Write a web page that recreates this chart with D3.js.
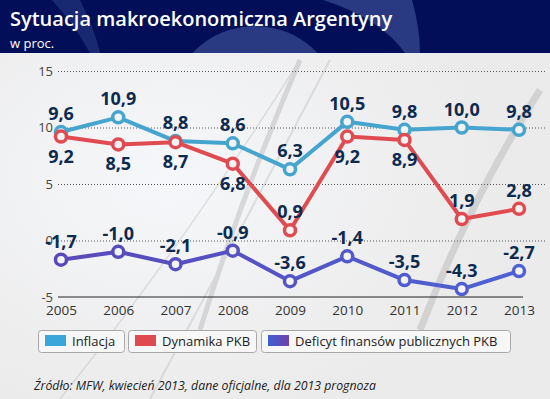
<!DOCTYPE html>
<html><head><meta charset="utf-8">
<script src="https://cdn.jsdelivr.net/npm/d3@7"></script>
<style>
html,body{margin:0;padding:0;background:#ededed;}
svg{display:block;}
</style></head>
<body><svg id="c" width="550" height="399"></svg>
<script>
const years = [2005, 2006, 2007, 2008, 2009, 2010, 2011, 2012, 2013];
const inflacja = [9.6, 10.9, 8.8, 8.6, 6.3, 10.5, 9.8, 10.0, 9.8];
const dynamikaPKB = [9.2, 8.5, 8.7, 6.8, 0.9, 9.2, 8.9, 1.9, 2.8];
const deficyt = [-1.7, -1.0, -2.1, -0.9, -3.6, -1.4, -3.5, -4.3, -2.7];
const yTicks = [-5, 0, 5, 10, 15];
const seriesNames = ["Inflacja", "Dynamika PKB", "Deficyt finansów publicznych PKB"];
const labelSide = [
  ["a","a","a","a","a","a","a","a","a"],
  ["b","b","b","b","a","b","b","a","a"],
  ["a","a","a","a","a","a","a","a","a"]
];
const title = "Sytuacja makroekonomiczna Argentyny";
const subtitle = "w proc.";
const source = "Źródło: MFW, kwiecień 2013, dane oficjalne, dla 2013 prognoza";

const svg = d3.select("#c");
const W = 550, H = 399;
const F = "'Open Sans', sans-serif";
const fmt = v => v.toFixed(1).replace(".", ",");

const defs = svg.append("defs");
const bg = defs.append("radialGradient").attr("id","bgg").attr("cx","0.3").attr("cy","0.45").attr("r","0.6");
bg.append("stop").attr("offset","0").attr("stop-color","#f6f7fa");
bg.append("stop").attr("offset","1").attr("stop-color","#ebebeb");
const dg = defs.append("linearGradient").attr("id","defg").attr("gradientUnits","userSpaceOnUse")
  .attr("x1",60).attr("x2",520).attr("y1",0).attr("y2",0);
dg.append("stop").attr("offset","0").attr("stop-color","#5a48b8");
dg.append("stop").attr("offset","1").attr("stop-color","#4d62d4");
const sg = defs.append("linearGradient").attr("id","swg").attr("x1","0").attr("x2","1");
sg.append("stop").attr("offset","0").attr("stop-color","#3f5fd6");
sg.append("stop").attr("offset","1").attr("stop-color","#7040a8");

// background
svg.append("rect").attr("width",W).attr("height",H).attr("fill","url(#bgg)");
const deco = svg.append("g").attr("fill","none").attr("stroke","#aaa").attr("opacity",0.3);
deco.append("path").attr("d","M60,399 Q180,250 300,60").attr("stroke-width",1.5);
deco.append("path").attr("d","M150,399 Q230,250 330,60").attr("stroke-width",2);
deco.append("path").attr("d","M200,330 Q240,200 300,60").attr("stroke-width",5).attr("stroke","#999");
deco.append("path").attr("d","M420,330 Q470,200 540,90").attr("stroke-width",7).attr("stroke","#999");

// header
const hd = svg.append("g");
hd.append("clipPath").attr("id","hc").append("rect").attr("width",W).attr("height",53);
hd.append("rect").attr("width",W).attr("height",53).attr("fill","#020f58");
const hg = hd.append("g").attr("clip-path","url(#hc)").attr("fill","#2a3a82");
hg.append("path").attr("d","M323,0 L412,0 Q420,28 420,53 L405,53 Q380,18 323,0 Z");
hg.append("path").attr("d","M52,0 L80,0 Q95,30 100,53 L90,53 Q75,25 52,0 Z").attr("opacity",0.6);
hg.append("circle").attr("cx",255).attr("cy",112).attr("r",86);
hd.append("text").attr("x",10).attr("y",26).attr("fill","#fff").attr("font-family",F)
  .attr("font-size",20).attr("font-weight",600).text(title);
hd.append("text").attr("x",10).attr("y",48).attr("fill","#fff").attr("font-family",F)
  .attr("font-size",13).text(subtitle);

// scales
const x = d3.scaleLinear().domain([2005, 2013]).range([61, 519]);
const y = d3.scaleLinear().domain([-5, 15]).range([297, 71]);

// grid
const grid = svg.append("g");
yTicks.forEach(t => {
  if (t === -5) {
    grid.append("line").attr("x1",58).attr("x2",523).attr("y1",y(t)).attr("y2",y(t))
      .attr("stroke","#222").attr("stroke-width",1);
  } else {
    grid.append("line").attr("x1",58).attr("x2",545).attr("y1",y(t)+0.5).attr("y2",y(t)+0.5)
      .attr("stroke","#555").attr("stroke-width",1).attr("stroke-dasharray","1,2");
  }
});
const yAxis = d3.axisLeft(y).tickValues(yTicks).tickSize(0).tickPadding(0).tickFormat(d => d);
const ya = svg.append("g").attr("transform","translate(53,0)").call(yAxis);
ya.select(".domain").remove();
ya.selectAll("text").attr("font-family",F).attr("font-size",13).attr("fill","#444");

const xAxis = d3.axisBottom(x).tickValues(years).tickSize(0).tickPadding(0).tickFormat(d => d);
const xa = svg.append("g").attr("transform","translate(0,305)").call(xAxis);
xa.select(".domain").remove();
xa.selectAll("text").attr("font-family",F).attr("font-size",13.5).attr("fill","#333");

// series
const colors = ["#45a5cf", "#e04b51", "url(#defg)"];
const data = [inflacja, dynamikaPKB, deficyt];
const order = [2, 0, 1];
const line = d3.line().x((d,i) => x(years[i])).y(d => y(d));
order.forEach(s => {
  const g = svg.append("g");
  g.append("path").datum(data[s]).attr("d", line).attr("fill","none")
    .attr("stroke", colors[s]).attr("stroke-width",4).attr("stroke-linejoin","round");
  g.selectAll("circle").data(data[s]).join("circle")
    .attr("cx",(d,i)=>x(years[i])).attr("cy",d=>y(d)).attr("r",5.5)
    .attr("fill","#f3f3f3").attr("stroke", colors[s]).attr("stroke-width",3.5);
});
// labels
const lg = svg.append("g").attr("font-family",F).attr("font-weight",700).attr("font-size",18)
  .attr("fill","#0d2a4f").attr("text-anchor","middle");
data.forEach((arr, s) => {
  lg.selectAll(null).data(arr).join("text")
    .attr("x",(d,i)=>x(years[i]))
    .attr("y",(d,i)=> labelSide[s][i]==="a" ? y(d)-12 : y(d)+26)
    .text(d=>fmt(d));
});

// legend
const legend = svg.append("g").attr("font-family",F).attr("font-size",13).attr("fill","#222");
const boxes = [[38,124],[128,256],[261,510]];
const swc = ["#3aa6d9","#de4a4f","url(#swg)"];
seriesNames.forEach((n,i) => {
  const [a,b] = boxes[i];
  legend.append("rect").attr("x",a+0.5).attr("y",330.5).attr("width",b-a).attr("height",22).attr("rx",3)
    .attr("fill","#f7f7f7").attr("stroke","#a8a8a8");
  legend.append("rect").attr("x",a+7).attr("y",335).attr("width",21).attr("height",11).attr("fill",swc[i]);
  legend.append("text").attr("x",a+34).attr("y",346).text(n);
});

svg.append("text").attr("x",34).attr("y",390).attr("font-family",F).attr("font-style","italic")
  .attr("font-size",12.3).attr("fill","#222").text(source);
</script></body></html>
